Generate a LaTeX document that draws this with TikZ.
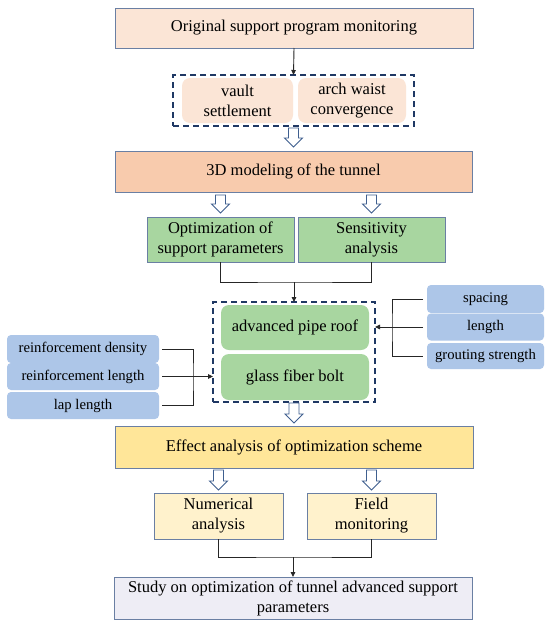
\documentclass[tikz,border=0pt]{standalone}
\usepackage{fontspec}
\setmainfont{Liberation Serif}
\usetikzlibrary{calc,arrows.meta}
\definecolor{peach}{HTML}{FBE5D6}
\definecolor{salmon}{HTML}{F8CBAD}
\definecolor{greenf}{HTML}{A8D6A0}
\definecolor{bluef}{HTML}{ADC6E8}
\definecolor{yellowf}{HTML}{FFE699}
\definecolor{lyellow}{HTML}{FFF2CC}
\definecolor{lavender}{HTML}{EEEDF5}
\definecolor{bord}{HTML}{6A7FA3}
\definecolor{navy}{HTML}{1F3864}
\definecolor{harc}{HTML}{3F5F8F}
\definecolor{lc}{HTML}{262626}
\newcommand\hollowarr[2]{\path[harrow] let \p1=(#1), \p2=(#2) in (\x1-5pt,\y1) -- (\x1-5pt,\y2+9pt) -- (\x1-9pt,\y2+9pt) -- (\x1,\y2) -- (\x1+9pt,\y2+9pt) -- (\x1+5pt,\y2+9pt) -- (\x1+5pt,\y1) -- cycle;}
\begin{document}
\begin{tikzpicture}[x=1pt,y=-1pt,
  box/.style={draw=bord, line width=0.8pt, inner sep=0pt, outer sep=0pt, align=center, font=\fontsize{16.5}{20}\selectfont},
  rbox/.style={rounded corners=8pt, inner sep=0pt, outer sep=0pt, align=center, font=\fontsize{16.5}{20}\selectfont},
  bbox/.style={fill=bluef, rounded corners=4pt, inner sep=0pt, outer sep=0pt, align=center, minimum width=117pt, font=\fontsize{14.7}{17}\selectfont},
  dbox/.style={draw=navy, dash pattern=on 6pt off 4pt, line width=1.4pt, inner sep=0pt, outer sep=0pt},
  line/.style={draw=lc, line width=0.9pt},
  arr/.style={line, -{Triangle[length=5pt,width=4.5pt]}},
  harrow/.style={draw=harc, fill=white, line width=0.9pt, line join=miter}]
\useasboundingbox (0,0) rectangle (550,630);
\fill[white] (0,0) rectangle (550,630);

% top
\node[box, fill=peach, minimum width=358pt, minimum height=40pt] (top) at (294,28) {Original support program monitoring};
\node[dbox, minimum width=241pt, minimum height=51pt] (dbA) at (293.5,100.5) {};
\node[rbox, fill=peach, minimum width=111pt, minimum height=45pt] (vault) at (237.5,100.5) {vault\\settlement};
\node[rbox, fill=peach, minimum width=108pt, minimum height=45pt] (arch) at (352,100.5) {arch waist\\convergence};
\draw[arr] (top.south) -- (dbA.north);

% 3D
\node[box, fill=salmon, minimum width=357pt, minimum height=41pt] (td) at (293.5,171.5) {3D modeling of the tunnel};
\hollowarr{$(dbA.south)+(0,2)$}{$(td.north)+(0,-4)$}

% green
\node[box, fill=greenf, minimum width=147pt, minimum height=45pt] (opt) at (220.5,239.5) {Optimization of\\support parameters};
\node[box, fill=greenf, minimum width=147pt, minimum height=45pt] (sens) at (371.5,239.5) {Sensitivity\\analysis};
\hollowarr{$(opt.north |- td.south)+(0,3)$}{$(opt.north)+(0,-4)$}
\hollowarr{$(sens.north |- td.south)+(0,3)$}{$(sens.north)+(0,-4)$}

% middle dashed
\node[dbox, minimum width=162pt, minimum height=100pt] (dbB) at (294,352) {};
\node[rbox, fill=greenf, minimum width=148pt, minimum height=45pt] (pipe) at (295,327.5) {advanced pipe roof};
\node[rbox, fill=greenf, minimum width=148pt, minimum height=46pt] (bolt) at (295,377) {glass fiber bolt};
\coordinate (barA) at (294,282);
\draw[line] (opt.south) |- (barA) -| (sens.south);
\draw[arr] (barA) -- (dbB.north);

% left blue
\node[bbox, minimum width=152pt, minimum height=28pt] (rd) at (83,349) {reinforcement density};
\node[bbox, minimum width=152pt, minimum height=27pt] (rl) at (83,376.5) {reinforcement length};
\node[bbox, minimum width=152pt, minimum height=27pt] (lap) at (83,405.5) {lap length};
\coordinate (lb) at (193,376.5);
\draw[line] ($(rd.east)+(3,0)$) -| (lb) |- ($(lap.east)+(3,0)$);
\draw[arr] ($(rl.east)+(3,0)$) -- (dbB.west |- rl.east);

% right blue
\node[bbox, minimum width=117pt, minimum height=28pt] (sp) at (485.5,299) {spacing};
\node[bbox, minimum width=117pt, minimum height=27pt] (len) at (485.5,327) {length};
\node[bbox, minimum width=117pt, minimum height=26pt] (gs) at (485.5,356) {grouting strength};
\coordinate (rb) at (392,327);
\draw[line] ($(sp.west)+(-4,0)$) -| (rb) |- ($(gs.west)+(-4,0)$);
\draw[arr] ($(len.west)+(-4,0)$) -- (dbB.east |- len.west);

% effect
\node[box, fill=yellowf, minimum width=358pt, minimum height=42pt] (eff) at (294,447) {Effect analysis of optimization scheme};
\hollowarr{$(dbB.south)+(0,1)$}{$(eff.north)+(0,-3)$}

\node[box, fill=lyellow, minimum width=129pt, minimum height=46pt] (num) at (218.5,516) {Numerical\\analysis};
\node[box, fill=lyellow, minimum width=129pt, minimum height=46pt] (field) at (371.5,516) {Field\\monitoring};
\hollowarr{$(num.north |- eff.south)+(0,2)$}{$(num.north)+(0,-3)$}
\hollowarr{$(field.north |- eff.south)+(0,2)$}{$(field.north)+(0,-3)$}

% final
\node[box, fill=lavender, minimum width=358pt, minimum height=42pt] (fin) at (293,598) {Study on optimization of tunnel advanced support\\parameters};
\coordinate (barB) at (293,557);
\draw[line] (num.south) |- (barB) -| (field.south);
\draw[arr] (barB) -- (fin.north);
\end{tikzpicture}
\end{document}
